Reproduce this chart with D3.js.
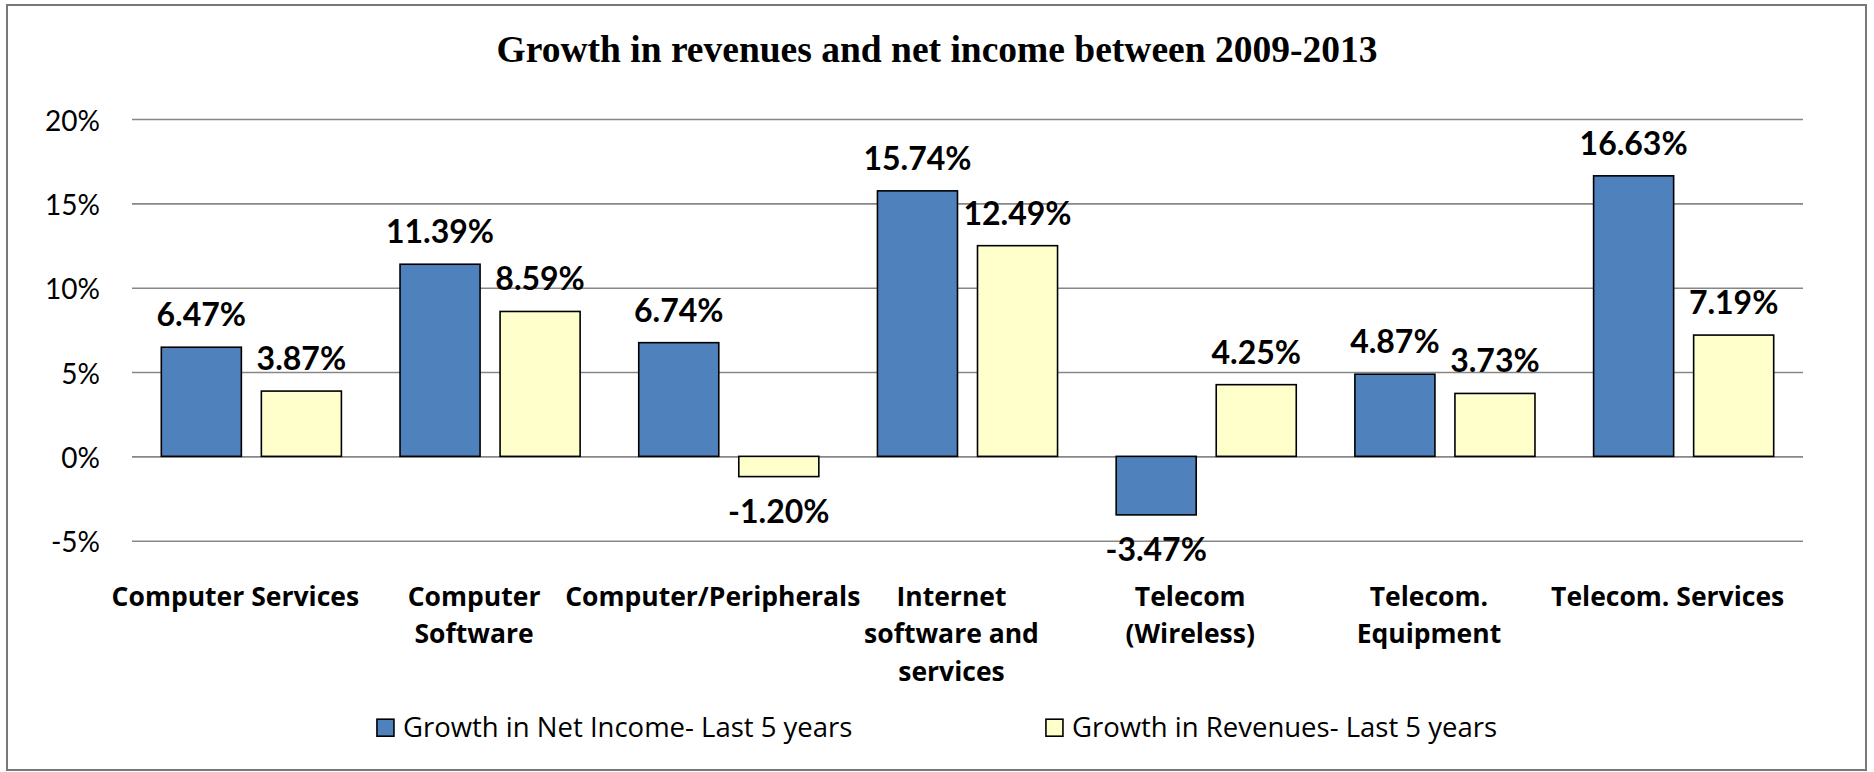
<!DOCTYPE html>
<html><head><meta charset="utf-8">
<script src="https://cdn.jsdelivr.net/npm/d3@7"></script>
<style>body{margin:0;background:#fff} svg{display:block}</style>
</head><body><svg id="chart" width="1874" height="772"></svg>
<script>
// ---- data ----
const title = "Growth in revenues and net income between 2009-2013";
const categories = ["Computer Services", "Computer\nSoftware", "Computer/Peripherals",
  "Internet\nsoftware and\nservices", "Telecom\n(Wireless)", "Telecom.\nEquipment", "Telecom. Services"];
const seriesNames = ["Growth in Net Income- Last 5 years", "Growth in Revenues- Last 5 years"];
const netIncome = [6.47, 11.39, 6.74, 15.74, -3.47, 4.87, 16.63];
const revenues = [3.87, 8.59, -1.20, 12.49, 4.25, 3.73, 7.19];
const yTicks = [-5, 0, 5, 10, 15, 20];

// ---- style / layout ----
const colors = ["#4f81bd", "#ffffcc"];
const plot = {left: 132, right: 1803, top: 119, bottom: 540.7};
const sans = "Lato, 'Open Sans', sans-serif";
const sans2 = "'Open Sans', Lato, sans-serif";

const svg = d3.select("#chart");
const series = [netIncome, revenues];

// frame
svg.append("rect").attr("x", 7).attr("y", 5).attr("width", 1859).attr("height", 765)
  .attr("fill", "#fff").attr("stroke", "#787878").attr("stroke-width", 2);

// title
svg.append("text").attr("x", 937).attr("y", 61.7).attr("text-anchor", "middle")
  .attr("font-family", "'Liberation Serif', 'Times New Roman', serif")
  .attr("font-weight", "bold").attr("font-size", 37.5).attr("fill", "#000").text(title);

const y = d3.scaleLinear().domain([d3.min(yTicks), d3.max(yTicks)]).range([plot.bottom, plot.top]);
const x0 = d3.scaleBand().domain(d3.range(categories.length)).range([plot.left, plot.right]);
const x1 = d3.scaleBand().domain(d3.range(series.length)).range([0, x0.bandwidth()])
  .paddingInner(0.2).paddingOuter(0.293);

// gridlines + y axis labels via d3 axis
const yAxis = d3.axisLeft(y).tickValues(yTicks).tickSize(-(plot.right - plot.left))
  .tickFormat(d => d + "%").tickPadding(32);
const gy = svg.append("g").attr("transform", `translate(${plot.left},0)`).call(yAxis);
gy.select(".domain").remove();
gy.selectAll(".tick line").attr("stroke", "#878787").attr("stroke-width", 1.6);
gy.selectAll(".tick text").attr("font-family", sans).attr("font-size", 28)
  .attr("fill", "#000").attr("dy", null).attr("dominant-baseline", "central");

// bars
const groups = svg.append("g").selectAll("g").data(categories).join("g")
  .attr("transform", (d, i) => `translate(${x0(i)},0)`);
groups.each(function(c, i) {
  const g = d3.select(this);
  series.forEach((s, k) => {
    const v = s[i];
    g.append("rect").attr("x", x1(k)).attr("width", x1.bandwidth())
      .attr("y", y(Math.max(0, v))).attr("height", Math.abs(y(v) - y(0)))
      .attr("fill", colors[k]).attr("stroke", "#000").attr("stroke-width", 1.6);
  });
});

// data labels
groups.each(function(c, i) {
  const g = d3.select(this);
  series.forEach((s, k) => {
    const v = s[i];
    g.append("text").attr("x", x1(k) + x1.bandwidth() / 2)
      .attr("y", v >= 0 ? y(v) - 21 : y(v) + 46.5)
      .attr("text-anchor", "middle").attr("font-family", sans).attr("font-weight", "bold")
      .attr("font-size", 32).attr("fill", "#000").text(v.toFixed(2) + "%");
  });
});

// category labels
const catShift = -16, lineH = 37.3, firstBase = 606;
categories.forEach((c, i) => {
  const t = svg.append("text").attr("text-anchor", "middle").attr("font-family", sans2)
    .attr("font-weight", "bold").attr("font-size", 26.5).attr("fill", "#000");
  c.split("\n").forEach((line, j) => {
    t.append("tspan").attr("x", x0(i) + x0.bandwidth() / 2 + catShift)
      .attr("y", firstBase + j * lineH).text(line);
  });
});

// legend
const legSpacing = 669, mk = 17, legBase = 736.7;
const leg = svg.append("g");
const items = leg.selectAll("g").data(seriesNames).join("g")
  .attr("transform", (d, i) => `translate(${i * legSpacing},0)`);
items.append("rect").attr("x", 0).attr("y", legBase - mk - 0.5).attr("width", mk).attr("height", mk)
  .attr("fill", (d, i) => colors[i]).attr("stroke", "#000").attr("stroke-width", 1.6);
items.append("text").attr("x", mk + 9).attr("y", legBase).attr("font-family", sans2)
  .attr("font-size", 27.5).attr("fill", "#000").text(d => d);
const lastW = items.filter((d, i) => i === seriesNames.length - 1).select("text").node().getComputedTextLength();
const total = (seriesNames.length - 1) * legSpacing + mk + 9 + lastW;
leg.attr("transform", `translate(${937 - total / 2},0)`);
</script>
</body></html>
